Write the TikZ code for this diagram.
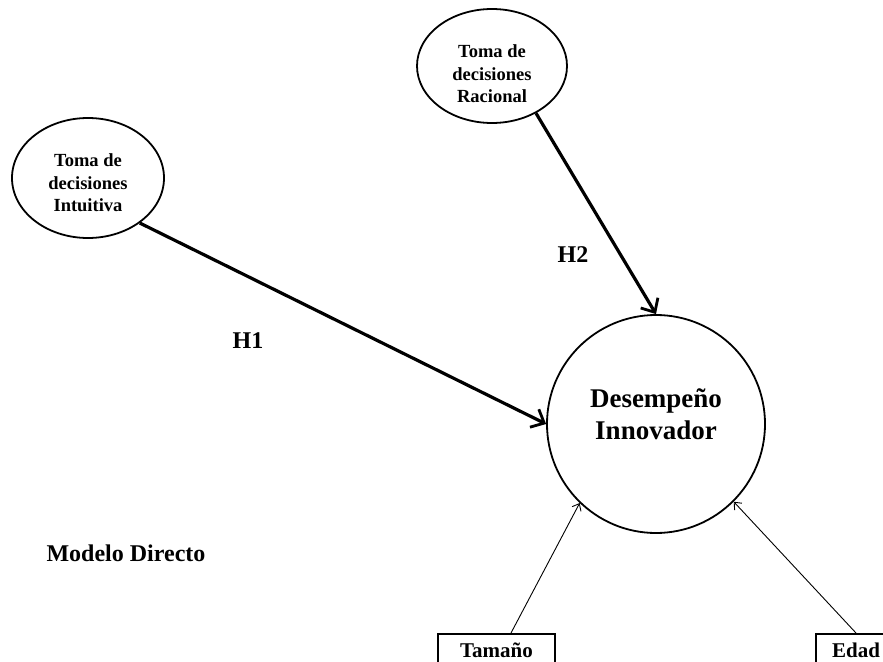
\documentclass[tikz,border=0pt]{standalone}
\usepackage{fontspec}
\setmainfont{Liberation Serif}
\usetikzlibrary{arrows.meta,shapes.geometric}
\begin{document}
\begin{tikzpicture}[x=1pt,y=-1pt,
  small/.style={ellipse,draw,line width=1.8pt,inner sep=0pt},
  smalltext/.style={align=center,font=\bfseries\fontsize{18.5}{22.5}\selectfont,inner sep=0pt},
  big/.style={circle,draw,line width=1.8pt,minimum size=218pt,inner sep=0pt},
  thick arrow/.style={line width=3.2pt,-{Straight Barb[length=11pt,width=20pt,line width=2.8pt]}},
  thin arrow/.style={line width=0.9pt,-{Straight Barb[length=6pt,width=10pt,line width=0.9pt]}},
  boxnode/.style={draw,line width=1.8pt,minimum height=32pt,anchor=north,font=\bfseries\fontsize{21}{24}\selectfont,inner sep=0pt},
  lbl/.style={font=\bfseries\fontsize{24}{28}\selectfont}]
\useasboundingbox (0,0) rectangle (883,661);
\node[small, minimum width=152pt, minimum height=120pt] (int) at (88,178) {};
\node[smalltext] (inttext) at (88,183) {Toma de\\decisiones\\Intuitiva};
\node[small, minimum width=150pt, minimum height=114pt] (rac) at (492,66) {};
\node[smalltext] (ractext) at (492,74) {Toma de\\decisiones\\Racional};
\node[big] (des) at (656,424) {};
\node[align=center,font=\bfseries\fontsize{27}{32}\selectfont] (destext) at (656,414) {Desempeño\\Innovador};
\node[boxnode, minimum width=117pt] (tam) at (496.5,633) {Tamaño};
\node[boxnode, minimum width=80pt] (eda) at (856,633) {Edad\hspace{8pt}};
\node[lbl] (h1) at (248,341) {H1};
\node[lbl] (h2) at (573,255) {H2};
\node[lbl] (mod) at (126,553) {Modelo Directo};
\coordinate (t1) at (511,633);
\coordinate (t2) at (856,633);
\draw[thick arrow] (int.-41) -- (des.west);
\draw[thick arrow] (rac.-47) -- (des.north);
\draw[thin arrow] (t1) -- (des.-134);
\draw[thin arrow] (t2) -- (des.-45);
\end{tikzpicture}
\end{document}
